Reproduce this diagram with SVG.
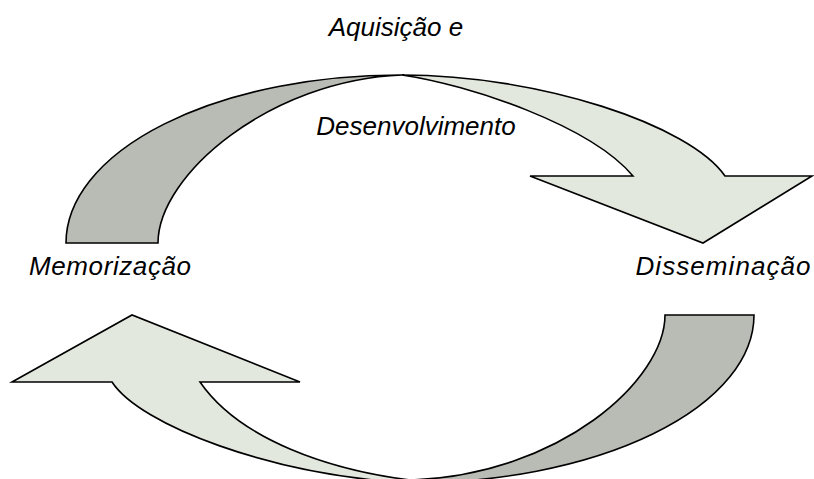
<svg xmlns="http://www.w3.org/2000/svg" width="814" height="479" viewBox="0 0 814 479">
<style>
.g{fill:#b9bcb4;stroke:#000;stroke-width:1.6;stroke-linejoin:miter}
.l{fill:#e3e8de;stroke:#000;stroke-width:1.6;stroke-linejoin:miter}
.t{font-family:"Liberation Sans",Arial,sans-serif;font-style:italic;font-size:26px;fill:#000;text-anchor:middle}
</style>
<rect width="814" height="479" fill="#fff"/>
<g id="connectors">
<g id="arrow-top">
<path class="g" d="M66,243 A334,168 0 0 1 402,75 C270,80 158,175 158,243 Z"/>
<path class="l" d="M402,75 C540,75 690,125 725,176 L812,176 L703,243 L530,176 L633,176 C590,125 470,85 402,75 Z"/>
</g>
<g id="arrow-bottom">
<path class="g" d="M754,315 A344,168 0 0 1 410,483 L410,480 C560,475 665,380 665,315 Z"/>
<path class="l" d="M112,382 L12,382 L132,315 L300,382 L200,382 C240,440 330,470 410,480 L410,483 C270,475 140,425 112,382 Z"/>
</g>
</g>
<g id="node-aquisicao"><text class="t" x="396" y="36">Aquisição e</text></g>
<g id="node-desenvolvimento"><text class="t" x="416" y="135">Desenvolvimento</text></g>
<g id="node-memorizacao"><text class="t" x="110" y="275" textLength="162" lengthAdjust="spacing">Memorização</text></g>
<g id="node-disseminacao"><text class="t" x="723" y="275" textLength="175" lengthAdjust="spacing">Disseminação</text></g>
</svg>
